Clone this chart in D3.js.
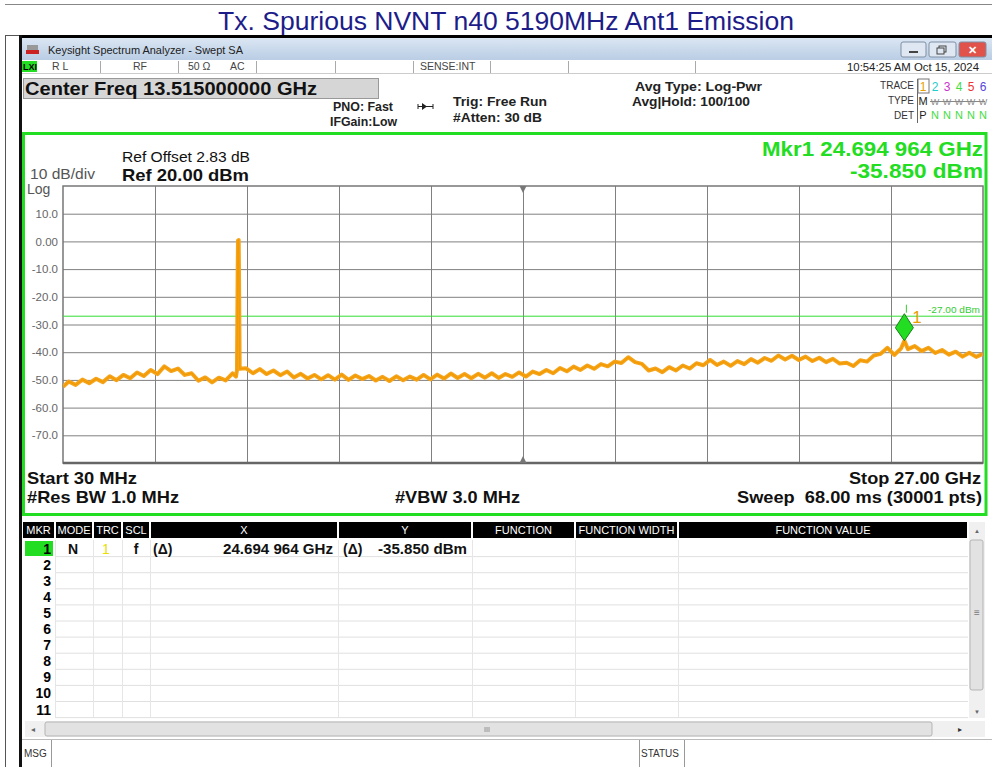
<!DOCTYPE html>
<html>
<head>
<meta charset="utf-8">
<script src="https://cdn.jsdelivr.net/npm/d3@7.9.0/dist/d3.min.js"></script>
<style>
  body { margin: 0; background: #fff; }
  svg { display: block; font-family: "Liberation Sans", Arial, sans-serif; }
</style>
</head>
<body>
<div id="chart"></div>
<script>
// ---- data ----
const titleText = 'Tx. Spurious NVNT n40 5190MHz Ant1 Emission';
const freqSpanGHz = [0.03, 27.0];
const levelSpanDbm = [-80, 20];
const yTickValues = [10, 0, -10, -20, -30, -40, -50, -60, -70];
const yTickLabels = ['10.0', '0.00', '-10.0', '-20.0', '-30.0', '-40.0', '-50.0', '-60.0', '-70.0'];
const limitDbm = -27;
const limitLabel = '-27.00 dBm';
const marker = { label: '1', freqGHz: 24.694964, dbm: -35.85 };

// [frequency GHz, level dBm]
const trace = [
  [0.03, -52.5], [0.2, -50.6], [0.4, -51.8], [0.6, -49.9], [0.8, -51.2], [1.0, -49.6],
  [1.2, -50.8], [1.4, -48.7], [1.6, -50.1], [1.8, -48.2], [2.0, -49.4], [2.2, -47.3],
  [2.4, -48.6], [2.6, -46.4], [2.8, -47.9], [3.0, -45.1], [3.2, -46.8], [3.4, -45.9],
  [3.6, -48.2], [3.8, -47.6], [4.0, -50.3], [4.2, -49.1], [4.4, -50.9], [4.6, -49.2],
  [4.8, -50.2], [5.0, -47.6], [5.1, -48.8], [5.13, -46.5], [5.15, -12.0], [5.16, 0.3],
  [5.18, 0.5], [5.19, -12.0], [5.21, -46.0], [5.4, -45.8], [5.6, -47.6], [5.8, -46.1],
  [6.0, -47.9], [6.2, -46.6], [6.4, -48.3], [6.6, -47.0], [6.8, -49.1], [7.0, -47.8],
  [7.2, -49.5], [7.4, -48.2], [7.6, -49.8], [7.8, -48.3], [8.0, -49.9], [8.2, -48.1],
  [8.4, -50.0], [8.6, -48.4], [8.8, -49.7], [9.0, -48.6], [9.2, -50.2], [9.4, -48.9],
  [9.6, -50.4], [9.8, -48.7], [10.0, -50.1], [10.2, -48.8], [10.4, -49.9], [10.6, -48.2],
  [10.8, -49.8], [11.0, -48.1], [11.2, -49.5], [11.4, -47.7], [11.6, -49.3], [11.8, -47.9],
  [12.0, -49.4], [12.2, -47.8], [12.4, -49.2], [12.6, -47.6], [12.8, -49.3], [13.0, -47.9],
  [13.2, -48.9], [13.4, -47.3], [13.6, -48.8], [13.8, -47.0], [14.0, -47.9], [14.2, -46.4],
  [14.4, -47.6], [14.6, -45.7], [14.8, -46.9], [15.0, -45.2], [15.2, -46.4], [15.4, -44.8],
  [15.6, -46.0], [15.8, -44.3], [16.0, -45.1], [16.2, -43.4], [16.4, -43.9], [16.6, -41.8],
  [16.8, -43.6], [17.0, -44.2], [17.2, -46.6], [17.4, -45.9], [17.6, -47.2], [17.8, -45.4],
  [18.0, -46.6], [18.2, -44.8], [18.4, -45.9], [18.6, -44.0], [18.8, -44.7], [19.0, -42.8],
  [19.2, -44.6], [19.4, -43.4], [19.6, -44.9], [19.8, -43.2], [20.0, -44.3], [20.2, -42.5],
  [20.4, -43.8], [20.6, -42.1], [20.8, -43.1], [21.0, -41.2], [21.2, -42.6], [21.4, -41.3],
  [21.6, -42.8], [21.8, -41.6], [22.0, -43.2], [22.2, -42.0], [22.4, -43.6], [22.6, -42.4],
  [22.8, -44.1], [23.0, -43.8], [23.2, -45.0], [23.4, -42.9], [23.6, -43.4], [23.8, -41.2],
  [24.0, -40.6], [24.2, -38.4], [24.4, -41.0], [24.6, -38.6], [24.695, -35.85], [24.8, -38.9],
  [25.0, -37.8], [25.2, -39.6], [25.4, -38.4], [25.6, -40.3], [25.8, -39.2], [26.0, -40.9],
  [26.2, -39.8], [26.4, -41.6], [26.6, -40.2], [26.8, -41.7], [27.0, -40.6],
];

const statusCells = ['R L', 'RF', '50 Ω', 'AC', '', '', 'SENSE:INT', '', ''];
const timeStamp = '10:54:25 AM Oct 15, 2024';
const traceNumbers = ['1', '2', '3', '4', '5', '6'];
const traceColors = ['#e8a000', '#22cccc', '#cc33cc', '#44dd44', '#ee3333', '#5544dd'];
const tableHeaders = ['MKR', 'MODE', 'TRC', 'SCL', 'X', 'Y', 'FUNCTION', 'FUNCTION WIDTH', 'FUNCTION VALUE'];
const rowNumbers = ['1', '2', '3', '4', '5', '6', '7', '8', '9', '10', '11'];
const markerRow = { mode: 'N', trc: '1', scl: 'f', xd: '(Δ)', x: '24.694 964 GHz', yd: '(Δ)', y: '-35.850 dBm' };

// ---- drawing ----
const W = 992, H = 767;
const green = '#22dd22';
const svg = d3.select('#chart').append('svg').attr('width', W).attr('height', H);

function txt(g, x, y, s, opts = {}) {
  const t = g.append('text')
    .attr('x', x).attr('y', y)
    .attr('font-size', opts.size || 12)
    .attr('font-weight', opts.bold ? 700 : 400)
    .attr('fill', opts.fill || '#111')
    .attr('text-anchor', opts.anchor || 'start')
    .text(s);
  // the screenshot is a little stretched sideways, so match measured widths
  if (opts.len) t.attr('textLength', opts.len).attr('lengthAdjust', 'spacingAndGlyphs');
  return t;
}

function drawFrame() {
  const g = svg.append('g');
  g.append('line').attr('x1', 5).attr('x2', W).attr('y1', 4.5).attr('y2', 4.5).attr('stroke', '#888');
  g.append('line').attr('x1', 5.5).attr('x2', 5.5).attr('y1', 35).attr('y2', H).attr('stroke', '#555');
  g.append('line').attr('x1', 5).attr('x2', 22).attr('y1', 35.5).attr('y2', 35.5).attr('stroke', '#555');
  txt(g, 506, 30, titleText, { size: 25, fill: '#1d1d8a', anchor: 'middle', len: 576 });
  // screenshot edge
  g.append('rect').attr('x', 19).attr('y', 35).attr('width', W - 19).attr('height', 3).attr('fill', '#000');
  g.append('rect').attr('x', 19).attr('y', 35).attr('width', 3).attr('height', H - 35).attr('fill', '#111');
}

function drawWindowChrome() {
  const g = svg.append('g');
  const grad = svg.append('defs').append('linearGradient')
    .attr('id', 'tb').attr('x1', 0).attr('x2', 0).attr('y1', 0).attr('y2', 1);
  grad.append('stop').attr('offset', 0).attr('stop-color', '#dbe6f3');
  grad.append('stop').attr('offset', 1).attr('stop-color', '#b9cde4');
  g.append('rect').attr('x', 22).attr('y', 38).attr('width', W - 22).attr('height', 22).attr('fill', 'url(#tb)');
  // icon
  g.append('rect').attr('x', 26).attr('y', 50).attr('width', 13).attr('height', 4).attr('fill', '#c22');
  g.append('rect').attr('x', 27).attr('y', 45).attr('width', 11).attr('height', 5).attr('fill', '#999');
  txt(g, 48, 54, 'Keysight Spectrum Analyzer - Swept SA', { size: 11.5, fill: '#222', len: 195 });
  // buttons
  const btns = [[901, 25, '#dfe8f2'], [929, 27, '#dfe8f2'], [959, 27, '#e0524a']];
  btns.forEach(([bx, bw, c]) => {
    g.append('rect').attr('x', bx).attr('y', 42).attr('width', bw).attr('height', 15).attr('rx', 2)
      .attr('fill', c).attr('stroke', '#7f8fa3');
  });
  g.append('rect').attr('x', 909).attr('y', 51).attr('width', 9).attr('height', 2).attr('fill', '#444');
  g.append('rect').attr('x', 939).attr('y', 46).attr('width', 7).attr('height', 6).attr('fill', 'none').attr('stroke', '#444');
  g.append('rect').attr('x', 937).attr('y', 48).attr('width', 7).attr('height', 6).attr('fill', '#dfe8f2').attr('stroke', '#444');
  txt(g, 972.5, 54, '✕', { size: 11, bold: true, fill: '#fff', anchor: 'middle' });

  // status row
  g.append('rect').attr('x', 22).attr('y', 60).attr('width', W - 22).attr('height', 13).attr('fill', '#fff');
  g.append('line').attr('x1', 22).attr('x2', W).attr('y1', 73.5).attr('y2', 73.5).attr('stroke', '#ccc');
  g.append('rect').attr('x', 22).attr('y', 61).attr('width', 15).attr('height', 11).attr('fill', green);
  txt(g, 23, 70, 'LXI', { size: 9, bold: true, fill: '#000' });
  const dividers = [100, 178, 256, 335, 413, 490, 568, 695];
  dividers.forEach((dx) => g.append('line').attr('x1', dx + 0.5).attr('x2', dx + 0.5).attr('y1', 61).attr('y2', 73).attr('stroke', '#aaa'));
  const cellX = [52, 133, 188, 230, 0, 0, 420];
  statusCells.forEach((s, i) => { if (s && cellX[i]) txt(g, cellX[i], 70, s, { size: 10.5, fill: '#444' }); });
  txt(g, 979, 71, timeStamp, { size: 11, fill: '#222', anchor: 'end', len: 132 });
}

function drawSettings() {
  const g = svg.append('g');
  g.append('rect').attr('x', 23.5).attr('y', 78.5).attr('width', 355).attr('height', 20).attr('fill', '#d6d6d6').attr('stroke', '#999');
  txt(g, 25, 95, 'Center Freq 13.515000000 GHz', { size: 18, bold: true, len: 292 });
  txt(g, 333, 111, 'PNO: Fast', { size: 12, bold: true, fill: '#222', len: 60 });
  txt(g, 330, 126, 'IFGain:Low', { size: 12, bold: true, fill: '#222', len: 67 });
  // trigger arrow glyph
  g.append('line').attr('x1', 418).attr('x2', 433).attr('y1', 106.5).attr('y2', 106.5).attr('stroke', '#222');
  g.append('path').attr('d', 'M422,103 L427,106.5 L422,110 Z').attr('fill', '#222');
  g.append('line').attr('x1', 418).attr('x2', 418).attr('y1', 104).attr('y2', 109).attr('stroke', '#222');
  g.append('line').attr('x1', 433).attr('x2', 433).attr('y1', 104).attr('y2', 109).attr('stroke', '#222');
  txt(g, 453, 106, 'Trig: Free Run', { size: 13, bold: true, fill: '#222', len: 94 });
  txt(g, 453, 122, '#Atten: 30 dB', { size: 13, bold: true, fill: '#222', len: 89 });
  txt(g, 635, 91, 'Avg Type: Log-Pwr', { size: 13, bold: true, fill: '#222', len: 127 });
  txt(g, 632, 106, 'Avg|Hold: 100/100', { size: 13, bold: true, fill: '#222', len: 118 });

  txt(g, 914, 89, 'TRACE', { size: 10, fill: '#333', anchor: 'end' });
  txt(g, 914, 104, 'TYPE', { size: 10, fill: '#333', anchor: 'end' });
  txt(g, 914, 119, 'DET', { size: 10, fill: '#333', anchor: 'end' });
  g.append('line').attr('x1', 917.5).attr('x2', 917.5).attr('y1', 79).attr('y2', 123).attr('stroke', '#666');
  g.append('rect').attr('x', 918).attr('y', 79).attr('width', 11).attr('height', 14).attr('fill', 'none').attr('stroke', '#777');
  traceNumbers.forEach((n, i) => {
    txt(g, 923 + i * 12, 91, n, { size: 12, fill: traceColors[i], anchor: 'middle' });
    txt(g, 923 + i * 12, 105, i === 0 ? 'M' : 'W', { size: i === 0 ? 11 : 9, fill: i === 0 ? '#222' : '#888', anchor: 'middle' });
    txt(g, 923 + i * 12, 119, i === 0 ? 'P' : 'N', { size: 11, fill: i === 0 ? '#222' : '#44dd44', anchor: 'middle' });
  });
  g.append('line').attr('x1', 930).attr('x2', 985).attr('y1', 101.5).attr('y2', 101.5).attr('stroke', '#888');
}

function drawPlot() {
  const plot = { left: 63, right: 983, top: 186, bottom: 463 };
  const g = svg.append('g');
  // green panel
  g.append('rect').attr('x', 23.5).attr('y', 133.5).attr('width', 962.5).attr('height', 381)
    .attr('fill', '#fff').attr('stroke', green).attr('stroke-width', 3);

  const x = d3.scaleLinear().domain(freqSpanGHz).range([plot.left, plot.right]);
  const y = d3.scaleLinear().domain(levelSpanDbm).range([plot.bottom, plot.top]);
  const div = d3.scaleLinear().domain([0, 10]).range([plot.left, plot.right]);

  // horizontal grid + level labels
  const yAxis = g.append('g').attr('transform', `translate(${plot.left},0)`)
    .call(d3.axisLeft(y).tickValues(yTickValues).tickSize(-(plot.right - plot.left))
      .tickFormat((d, i) => yTickLabels[i]).tickPadding(5));
  yAxis.select('.domain').remove();
  yAxis.selectAll('line').attr('stroke', '#808080');
  yAxis.selectAll('text').attr('font-size', 11.5).attr('fill', '#666').attr('font-family', 'Liberation Sans, Arial, sans-serif');

  // vertical grid (10 divisions)
  const xAxis = g.append('g').attr('transform', `translate(0,${plot.bottom})`)
    .call(d3.axisBottom(div).tickValues(d3.range(1, 10)).tickSize(-(plot.bottom - plot.top)).tickFormat(''));
  xAxis.select('.domain').remove();
  xAxis.selectAll('line').attr('stroke', '#808080');

  g.append('rect').attr('x', plot.left).attr('y', plot.top).attr('width', plot.right - plot.left)
    .attr('height', plot.bottom - plot.top).attr('fill', 'none').attr('stroke', '#777').attr('stroke-width', 1.5);
  g.append('line').attr('x1', plot.left).attr('x2', plot.right).attr('y1', plot.bottom).attr('y2', plot.bottom)
    .attr('stroke', '#666').attr('stroke-width', 2.5);

  // center triangles
  const cx = div(5);
  g.append('path').attr('d', `M${cx - 3.5},${plot.top} L${cx + 3.5},${plot.top} L${cx},${plot.top + 7} Z`).attr('fill', '#777');
  g.append('path').attr('d', `M${cx - 3.5},${plot.bottom} L${cx + 3.5},${plot.bottom} L${cx},${plot.bottom - 7} Z`).attr('fill', '#777');

  // limit line
  g.append('line').attr('x1', plot.left).attr('x2', plot.right).attr('y1', y(limitDbm)).attr('y2', y(limitDbm))
    .attr('stroke', '#33dd33').attr('stroke-width', 1);
  txt(g, 928, y(limitDbm) - 3, limitLabel, { size: 9, fill: '#33cc33', len: 52 });

  // trace
  svg.append('clipPath').attr('id', 'clip').append('rect')
    .attr('x', plot.left).attr('y', plot.top).attr('width', plot.right - plot.left).attr('height', plot.bottom - plot.top);
  const line = d3.line().x((d) => x(d[0])).y((d) => y(d[1]));
  g.append('path').datum(trace).attr('d', line).attr('clip-path', 'url(#clip)')
    .attr('fill', 'none').attr('stroke', '#f5a41c').attr('stroke-width', 4).attr('stroke-linejoin', 'round');
  g.append('path').datum(trace).attr('d', line).attr('clip-path', 'url(#clip)')
    .attr('fill', 'none').attr('stroke', '#f29a00').attr('stroke-width', 1.2).attr('stroke-linejoin', 'miter');

  // marker
  const mx = x(marker.freqGHz), my = y(marker.dbm);
  g.append('path').attr('d', `M${mx},${my - 27} L${mx + 9},${my - 13} L${mx},${my} L${mx - 9},${my - 13} Z`)
    .attr('fill', green).attr('stroke', '#178017').attr('stroke-width', 1);
  g.append('line').attr('x1', mx + 2).attr('x2', mx + 2).attr('y1', my - 36).attr('y2', my - 28).attr('stroke', '#33cc33');
  txt(g, mx + 8, my - 18, marker.label, { size: 17, fill: '#e8a000' });

  // annotations
  txt(g, 122, 162, 'Ref Offset 2.83 dB', { size: 14, fill: '#111', len: 128 });
  txt(g, 122, 181, 'Ref 20.00 dBm', { size: 17, bold: true, len: 127 });
  txt(g, 30, 179, '10 dB/div', { size: 14, fill: '#555', len: 65 });
  txt(g, 27, 194, 'Log', { size: 14, fill: '#555' });
  txt(g, 983, 156, 'Mkr1 24.694 964 GHz', { size: 20, bold: true, fill: green, anchor: 'end', len: 221 });
  txt(g, 983, 178, '-35.850 dBm', { size: 20, bold: true, fill: green, anchor: 'end', len: 133 });
  txt(g, 27, 484, 'Start 30 MHz', { size: 17, bold: true, len: 110 });
  txt(g, 27, 503, '#Res BW 1.0 MHz', { size: 17, bold: true, len: 152 });
  txt(g, 395, 503, '#VBW 3.0 MHz', { size: 17, bold: true, len: 125 });
  txt(g, 981, 484, 'Stop 27.00 GHz', { size: 17, bold: true, anchor: 'end', len: 132 });
  txt(g, 982, 503, 'Sweep  68.00 ms (30001 pts)', { size: 17, bold: true, anchor: 'end', len: 245 }).attr('xml:space', 'preserve');
}

function drawTable() {
  const g = svg.append('g');
  const edges = [22, 55, 93, 122, 150, 338, 472, 575, 678, 968];
  const top = 522, headH = 16, rowH = 16.1, firstRow = 540;
  g.append('rect').attr('x', 22).attr('y', 518).attr('width', W - 22).attr('height', H - 518).attr('fill', '#fff');
  tableHeaders.forEach((h, i) => {
    g.append('rect').attr('x', edges[i] + 1).attr('y', top).attr('width', edges[i + 1] - edges[i] - 2).attr('height', headH).attr('fill', '#000');
    txt(g, (edges[i] + edges[i + 1]) / 2, top + 12, h, { size: 11, fill: '#fff', anchor: 'middle' });
  });
  // body grid
  rowNumbers.forEach((n, i) => {
    const ry = firstRow + i * rowH;
    g.append('line').attr('x1', 55).attr('x2', 968).attr('y1', ry + rowH + 0.5).attr('y2', ry + rowH + 0.5).attr('stroke', '#e0e0e0');
    if (i === 0) g.append('rect').attr('x', 25).attr('y', ry + 1).attr('width', 28).attr('height', 15).attr('fill', green);
    txt(g, 51, ry + 13.5, n, { size: 14, bold: true, anchor: 'end', fill: '#000' });
  });
  edges.slice(1, 9).forEach((ex) => g.append('line').attr('x1', ex + 0.5).attr('x2', ex + 0.5)
    .attr('y1', firstRow).attr('y2', firstRow + rowNumbers.length * rowH).attr('stroke', '#e6e6e6'));
  const r1 = firstRow + 13.5;
  txt(g, 73, r1, markerRow.mode, { size: 14, bold: true, anchor: 'middle' });
  txt(g, 106, r1, markerRow.trc, { size: 14, fill: '#e8e000', anchor: 'middle' });
  txt(g, 136, r1, markerRow.scl, { size: 14, bold: true, anchor: 'middle' });
  txt(g, 153, r1, markerRow.xd, { size: 14, bold: true });
  txt(g, 333, r1, markerRow.x, { size: 14, bold: true, anchor: 'end', len: 110 });
  txt(g, 343, r1, markerRow.yd, { size: 14, bold: true });
  txt(g, 467, r1, markerRow.y, { size: 14, bold: true, anchor: 'end', len: 89 });

  // vertical scrollbar
  g.append('rect').attr('x', 969).attr('y', 522).attr('width', 16).attr('height', 196).attr('fill', '#f0f0f0');
  g.append('rect').attr('x', 970).attr('y', 540).attr('width', 13).attr('height', 150).attr('rx', 2).attr('fill', '#e2e2e2').attr('stroke', '#b5b5b5');
  txt(g, 977, 616, '≡', { size: 10, fill: '#777', anchor: 'middle' });
  txt(g, 977, 533, '▲', { size: 6, fill: '#666', anchor: 'middle' });
  txt(g, 977, 714, '▼', { size: 6, fill: '#666', anchor: 'middle' });
  // horizontal scrollbar
  g.append('rect').attr('x', 25).attr('y', 721).attr('width', 960).attr('height', 16).attr('fill', '#f0f0f0');
  g.append('rect').attr('x', 45).attr('y', 722).attr('width', 887).attr('height', 14).attr('rx', 2).attr('fill', '#e2e2e2').attr('stroke', '#b5b5b5');
  txt(g, 487, 732, 'III', { size: 7, fill: '#777', anchor: 'middle' });
  txt(g, 33, 732, '◂', { size: 8, fill: '#666', anchor: 'middle' });
  txt(g, 960, 732, '▸', { size: 8, fill: '#333', anchor: 'middle' });
  // message bar
  g.append('line').attr('x1', 22).attr('x2', W).attr('y1', 739.5).attr('y2', 739.5).attr('stroke', '#bbb');
  g.append('line').attr('x1', 51.5).attr('x2', 51.5).attr('y1', 740).attr('y2', H).attr('stroke', '#999');
  txt(g, 24, 757, 'MSG', { size: 10, fill: '#333' });
  g.append('line').attr('x1', 639.5).attr('x2', 639.5).attr('y1', 740).attr('y2', H).attr('stroke', '#999');
  g.append('line').attr('x1', 684.5).attr('x2', 684.5).attr('y1', 740).attr('y2', H).attr('stroke', '#999');
  txt(g, 641, 757, 'STATUS', { size: 10, fill: '#333' });
}

drawFrame();
drawWindowChrome();
drawSettings();
drawPlot();
drawTable();
</script>
</body>
</html>
